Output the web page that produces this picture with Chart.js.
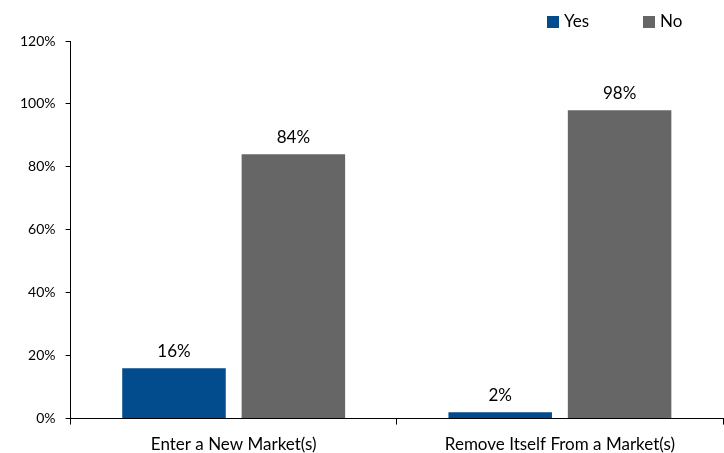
<!DOCTYPE html>
<html>
<head>
<meta charset="utf-8">
<script src="https://cdn.jsdelivr.net/npm/chart.js@4.4.1/dist/chart.umd.min.js"></script>
<style>
  html, body { margin: 0; padding: 0; background: #fff; }
  #chart { display: block; }
</style>
</head>
<body>
<canvas id="chart" width="724" height="453"></canvas>
<script>
const categories = ['Enter a New Market(s)', 'Remove Itself From a Market(s)'];
const seriesNames = ['Yes', 'No'];
const yesValues = [16, 2];
const noValues = [84, 98];
const yTicks = [0, 20, 40, 60, 80, 100, 120];

const FONT = 'Lato, "Open Sans", sans-serif';

// writes the value above each bar
const barValueLabels = {
    id: 'barValueLabels',
    afterDatasetsDraw(chart) {
        const ctx = chart.ctx;
        ctx.save();
        ctx.font = '17px ' + FONT;
        ctx.fillStyle = '#000';
        ctx.textAlign = 'center';
        ctx.textBaseline = 'middle';
        chart.data.datasets.forEach((ds, i) => {
            chart.getDatasetMeta(i).data.forEach((bar, j) => {
                ctx.fillText(ds.data[j] + '%', bar.x, bar.y - 17);
            });
        });
        ctx.restore();
    }
};

// small legend in the top right corner, wider spacing than the built-in one
const cornerLegend = {
    id: 'cornerLegend',
    afterDraw(chart) {
        const ctx = chart.ctx;
        ctx.save();
        ctx.font = '17px ' + FONT;
        ctx.textBaseline = 'middle';
        ctx.textAlign = 'left';
        let x = 547;
        const y = 22;
        chart.data.datasets.forEach(ds => {
            ctx.fillStyle = ds.backgroundColor;
            ctx.fillRect(x, y - 6, 12, 12);
            ctx.fillStyle = '#000';
            ctx.fillText(ds.label, x + 17, y);
            x += 96;
        });
        ctx.restore();
    }
};

const ctx = document.getElementById('chart').getContext('2d');
new Chart(ctx, {
    type: 'bar',
    data: {
        labels: categories,
        datasets: [{
            label: seriesNames[0],
            data: yesValues,
            backgroundColor: '#024b8d',
            categoryPercentage: 0.732,
            barPercentage: 0.867,
        }, {
            label: seriesNames[1],
            data: noValues,
            backgroundColor: '#666666',
            categoryPercentage: 0.732,
            barPercentage: 0.867,
        }],
    },
    options: {
        responsive: false,
        animation: false,
        layout: {
            padding: { left: 10, right: 1, top: 41, bottom: -12 },
        },
        plugins: {
            legend: { display: false },
            tooltip: { enabled: false },
        },
        scales: {
            x: {
                grid: {
                    offset: true,
                    drawOnChartArea: false,
                    tickLength: 6,
                    color: '#000',
                },
                border: { color: '#000' },
                ticks: {
                    font: { family: FONT, size: 17 },
                    color: '#000',
                    padding: 10,
                },
            },
            y: {
                min: 0,
                max: 120,
                afterBuildTicks(axis) {
                    axis.ticks = yTicks.map(v => ({ value: v }));
                },
                grid: {
                    drawOnChartArea: false,
                    tickLength: 5,
                    color: '#000',
                },
                border: { color: '#000' },
                ticks: {
                    font: { family: FONT, size: 14 },
                    color: '#000',
                    padding: 10,
                    callback: v => v + '%',
                },
            },
        },
    },
    plugins: [barValueLabels, cornerLegend],
});
</script>
</body>
</html>
